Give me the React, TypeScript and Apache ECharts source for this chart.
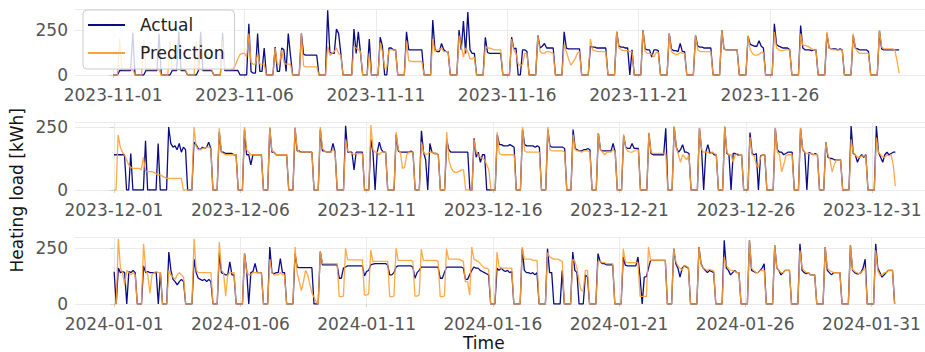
import React, { useEffect, useRef } from "react";
import * as echarts from "echarts";

// sample hours within each day (2-hour steps)
const dayHours = [0, 2, 4, 6, 8, 10, 12, 14, 16, 18, 20, 22];

const novActual: number[][] = [
  [0,0,0,25,25,25,25,25,25,235,0,0],
  [0,0,0,25,25,25,25,25,25,230,0,0],
  [0,0,0,25,25,25,240,25,25,25,0,0],
  [0,0,0,25,240,25,25,25,25,25,0,0],
  [0,0,235,25,25,25,25,25,25,25,0,0],
  [0,0,285,20,10,10,230,20,20,150,0,0],
  [0,0,155,20,20,150,140,20,230,110,0,0],
  [0,0,230,115,110,110,110,110,110,110,0,0],
  [0,0,360,125,120,120,255,230,120,0,0,0],
  [0,0,255,120,240,120,0,0,0,200,0,0],
  [0,0,210,160,0,0,150,150,140,140,0,0],
  [0,0,240,140,140,140,140,140,140,140,0,0],
  [0,0,305,140,130,130,175,140,130,130,0,0],
  [0,0,250,140,300,120,350,140,120,120,0,0],
  [0,0,210,125,120,120,120,120,120,120,0,0],
  [0,0,210,145,150,0,0,140,140,130,0,0],
  [0,0,220,150,160,175,150,150,150,150,0,0],
  [0,0,240,150,145,145,145,145,145,145,0,0],
  [0,0,160,155,155,150,150,150,150,150,0,0],
  [0,0,240,160,155,155,150,150,0,140,0,0],
  [0,0,250,145,140,140,100,140,140,135,0,0],
  [0,0,230,145,135,135,130,175,130,130,0,0],
  [0,0,220,160,155,155,150,150,150,150,0,0],
  [0,0,250,145,140,140,140,140,140,140,0,0],
  [0,0,215,170,165,160,160,190,160,150,0,0],
  [0,0,285,170,160,155,150,150,150,140,0,0],
  [0,0,275,150,140,140,140,135,140,140,0,0],
  [0,0,230,150,145,145,145,140,145,140,0,0],
  [0,0,220,150,145,140,140,140,140,130,0,0],
  [0,0,245,145,140,140,140,140,140,140,140,140],
];
const novPrediction: number[][] = [
  [0,0,0,200,30,30,30,30,30,30,0,0],
  [0,0,195,30,30,30,30,30,30,30,0,0],
  [0,0,190,30,30,30,30,30,30,30,0,0],
  [0,0,190,30,30,30,30,30,30,30,0,0],
  [0,0,190,30,30,30,30,30,60,90,115,120],
  [120,100,230,70,60,60,120,60,60,60,0,0],
  [0,0,150,60,60,140,70,60,60,60,0,0],
  [0,0,230,50,45,45,45,45,45,45,0,0],
  [0,0,160,110,120,130,150,120,110,0,0,0],
  [0,0,160,150,140,130,0,0,0,120,0,0],
  [0,0,180,130,40,40,140,140,140,140,0,0],
  [0,0,190,80,75,75,75,75,75,75,0,0],
  [0,0,200,130,140,140,150,130,130,130,0,0],
  [0,0,220,160,100,150,130,90,90,100,0,0],
  [0,0,160,150,150,145,140,140,140,140,0,0],
  [0,0,200,140,120,60,50,60,120,120,0,0],
  [0,0,220,130,120,120,130,130,125,120,0,0],
  [0,0,170,130,90,55,70,90,120,130,0,0],
  [0,0,200,140,135,130,130,130,130,130,0,0],
  [0,0,240,150,140,135,135,135,130,130,0,0],
  [0,0,250,130,120,120,115,100,125,125,0,0],
  [0,0,230,130,120,115,115,125,120,120,0,0],
  [0,0,220,140,130,130,130,130,130,130,0,0],
  [0,0,250,145,140,140,140,140,140,140,0,0],
  [0,0,220,140,120,110,110,115,125,125,0,0],
  [0,0,240,150,140,135,135,140,140,140,0,0],
  [0,0,230,165,165,160,155,145,140,140,0,0],
  [0,0,240,150,145,140,140,140,140,140,0,0],
  [0,0,230,150,130,120,120,120,120,120,0,0],
  [0,0,250,155,145,145,145,145,145,140,80,10],
];

const decActual: number[][] = [
  [140,140,140,140,140,140,0,0,145,0,0,0],
  [0,0,0,195,0,0,0,0,0,185,0,0],
  [0,0,250,185,170,175,160,185,150,170,160,0],
  [0,0,190,180,165,160,170,165,170,190,165,0],
  [0,0,230,150,150,145,145,145,145,140,140,0],
  [0,0,240,140,140,100,140,140,140,140,140,0],
  [0,0,245,150,150,140,140,140,140,140,140,0],
  [0,0,245,155,155,150,150,150,150,150,150,0],
  [0,0,240,155,155,150,150,150,185,150,0,0],
  [0,0,255,150,150,150,80,150,150,150,150,0],
  [0,0,200,150,0,150,190,160,150,150,0,0],
  [0,0,220,155,150,150,150,150,150,155,150,0],
  [0,0,235,150,120,0,185,150,145,145,140,0],
  [0,0,200,160,150,150,150,150,150,150,150,150],
  [150,0,0,205,130,150,110,140,140,0,0,0],
  [0,0,220,180,180,175,175,175,180,175,170,0],
  [0,0,240,180,175,175,175,175,170,175,170,0],
  [0,0,240,175,170,170,170,170,170,170,165,0],
  [0,0,240,165,160,155,155,160,160,165,160,0],
  [0,0,225,160,155,155,155,155,155,185,150,0],
  [0,0,215,170,165,165,185,165,165,165,0,0],
  [0,0,225,145,140,140,140,140,140,140,245,0],
  [0,0,250,170,150,160,180,150,150,145,0,0],
  [0,0,245,160,0,150,180,145,150,140,140,0],
  [0,0,250,145,140,0,145,145,140,140,140,0],
  [0,0,228,145,140,145,0,135,140,140,0,0],
  [0,0,245,160,150,150,140,145,150,150,150,0],
  [0,0,245,160,150,0,150,145,140,145,140,0],
  [0,0,190,130,125,125,120,120,120,120,0,0],
  [0,0,254,145,140,110,130,140,130,140,0,0],
  [0,0,254,150,130,110,140,150,140,145,150,150],
];
const decPrediction: number[][] = [
  [0,0,218,172,150,140,120,100,90,86,86,86],
  [86,80,130,75,73,73,73,70,65,60,60,55],
  [50,46,46,46,46,46,46,46,46,0,0,0],
  [0,0,250,175,160,160,165,165,170,170,165,0],
  [0,0,245,150,145,140,140,140,140,140,140,0],
  [0,0,250,160,150,140,140,140,140,140,140,0],
  [0,0,250,155,150,140,140,140,140,140,140,0],
  [0,0,250,160,150,150,150,150,150,150,150,0],
  [0,0,250,165,155,150,150,150,160,150,0,0],
  [0,0,200,155,150,145,140,145,145,145,145,0],
  [0,0,258,160,150,150,140,150,150,150,0,0],
  [0,0,230,160,150,86,90,140,150,150,150,0],
  [0,0,190,150,140,145,150,150,145,145,140,0],
  [0,0,230,120,90,75,70,70,75,80,80,0],
  [0,0,0,200,150,140,130,125,120,100,80,0],
  [0,0,230,145,140,140,140,140,140,140,140,0],
  [0,0,250,155,150,150,150,150,150,150,150,0],
  [0,0,250,160,155,155,155,155,155,155,150,0],
  [0,0,220,160,155,155,150,155,155,155,150,0],
  [0,0,225,160,150,140,150,150,150,160,150,0],
  [0,0,221,165,155,150,150,155,160,160,0,0],
  [0,0,228,150,145,145,145,145,145,145,145,0],
  [0,0,254,170,140,110,140,130,120,140,0,0],
  [0,0,247,160,150,150,150,145,150,145,140,0],
  [0,0,254,150,140,140,110,140,145,140,140,0],
  [0,0,210,140,135,100,90,130,140,140,0,0],
  [0,0,247,150,140,72,100,135,140,140,140,0],
  [0,0,247,160,150,145,145,145,140,140,140,0],
  [0,0,190,140,120,72,100,120,120,120,0,0],
  [0,0,200,150,140,130,130,135,135,135,0,0],
  [0,0,208,150,140,130,130,140,135,140,100,15],
];

const janActual: number[][] = [
  [144,0,160,140,145,140,0,145,140,150,140,0],
  [0,0,170,140,145,140,140,140,140,0,140,0],
  [0,0,232,150,110,100,85,100,110,100,0,0],
  [0,0,200,140,115,110,105,110,100,110,100,0],
  [0,0,230,140,135,130,130,188,130,130,0,0],
  [0,0,225,150,0,140,145,181,140,140,140,0],
  [0,0,254,140,135,140,140,203,140,140,0,0],
  [0,0,225,165,162,162,162,162,162,162,162,0],
  [0,0,234,175,175,175,175,175,175,175,175,115],
  [115,160,165,170,170,170,170,170,170,170,170,125],
  [145,150,175,178,180,180,180,180,180,180,175,130],
  [130,140,165,170,170,170,170,170,170,170,165,115],
  [140,150,165,165,165,165,165,165,165,165,165,115],
  [115,140,165,165,165,165,165,165,165,165,160,110],
  [110,130,150,165,160,160,150,145,140,135,130,0],
  [0,0,160,150,160,150,145,150,140,145,0,0],
  [0,0,247,150,140,140,135,140,130,140,0,0],
  [0,0,247,140,140,0,0,0,0,150,0,0],
  [0,0,232,150,140,0,0,0,130,120,0,0],
  [0,0,225,190,180,180,175,175,175,175,0,0],
  [0,0,210,173,170,170,170,170,170,210,120,0],
  [120,122,160,195,195,195,195,195,195,195,195,0],
  [0,0,247,180,160,120,160,170,165,160,0,0],
  [0,0,254,180,160,150,140,150,145,140,0,0],
  [0,0,284,160,150,130,140,150,140,140,0,0],
  [0,0,284,150,145,140,140,150,160,180,0,0],
  [0,0,262,160,150,130,140,150,150,150,0,0],
  [0,0,269,150,140,135,140,130,130,130,0,0],
  [0,0,254,150,140,130,140,140,140,140,0,0],
  [0,0,262,150,140,135,135,140,160,200,0,0],
  [0,0,269,160,140,120,130,140,150,150,150,0],
];
const janPrediction: number[][] = [
  [0,0,291,160,140,85,150,140,130,140,130,0],
  [0,0,269,150,130,48,130,140,145,140,140,0],
  [0,0,150,130,120,110,130,140,130,120,0,0],
  [0,0,291,150,140,140,140,140,140,140,140,0],
  [0,0,276,150,140,35,130,140,140,140,0,0],
  [0,0,225,140,130,130,140,140,140,140,140,0],
  [0,0,200,140,130,130,130,140,130,130,0,0],
  [0,0,254,140,100,60,100,150,130,90,50,30],
  [10,0,234,180,180,180,180,180,180,180,180,33],
  [33,35,249,197,197,197,197,197,197,197,197,40],
  [40,45,241,189,190,190,190,190,190,190,190,33],
  [33,35,249,195,195,195,195,195,195,195,190,35],
  [35,40,245,195,195,195,195,195,195,195,190,33],
  [33,35,247,200,200,200,200,200,200,195,190,100],
  [100,40,254,200,195,190,180,170,160,160,155,0],
  [0,0,232,165,160,160,160,160,160,160,0,0],
  [0,0,254,200,200,200,200,195,195,195,0,0],
  [0,0,230,210,205,200,200,200,195,190,0,0],
  [0,0,200,190,160,100,60,60,150,150,0,0],
  [0,0,190,190,185,185,180,180,180,180,0,0],
  [0,0,247,188,185,185,185,185,185,185,34,34],
  [34,34,254,195,195,195,195,195,195,195,195,0],
  [0,0,247,190,170,160,150,170,170,160,0,0],
  [0,0,254,175,160,155,150,155,150,150,0,0],
  [0,0,210,170,160,150,150,145,140,140,0,0],
  [0,0,284,160,150,140,140,150,150,150,0,0],
  [0,0,262,160,150,140,140,150,150,150,0,0],
  [0,0,240,160,150,140,140,130,130,130,0,0],
  [0,0,254,160,150,145,140,140,140,140,0,0],
  [0,0,262,155,145,140,135,140,150,160,0,0],
  [0,0,240,150,130,130,140,140,150,150,150,0],
];

// x tick positions (days from the first of the month)
const novTicks = [0, 5, 10, 15, 20, 25];
const decTicks = [0, 5, 10, 15, 20, 25, 30];
const janTicks = [0, 5, 10, 15, 20, 25, 30];

const panels = [
  { start: Date.UTC(2023, 10, 1), actual: novActual, pred: novPrediction, ticks: novTicks, xMin: -1.45, xMax: 30.9, top: 9, bottom: 75, yMax: 367 },
  { start: Date.UTC(2023, 11, 1), actual: decActual, pred: decPrediction, ticks: decTicks, xMin: -1.54, xMax: 32.09, top: 122, bottom: 190, yMax: 270 },
  { start: Date.UTC(2024, 0, 1), actual: janActual, pred: janPrediction, ticks: janTicks, xMin: -1.55, xMax: 32.12, top: 237, bottom: 304, yMax: 299 },
];

function toPoints(days: number[][]): [number, number][] {
  const pts: [number, number][] = [];
  days.forEach((vals, d) => {
    vals.forEach((v, i) => pts.push([d + dayHours[i] / 24, v]));
  });
  return pts;
}

const FONT = "DejaVu Sans";
const NAVY = "#0b0b85";
const ORANGE = "#ffa033";

export default function App() {
  const ref = useRef<HTMLDivElement>(null);
  useEffect(() => {
    if (!ref.current) return;
    const chart = echarts.init(ref.current, undefined, { renderer: "svg" });
    const grids: any[] = [];
    const xAxes: any[] = [];
    const yAxes: any[] = [];
    const series: any[] = [];
    panels.forEach((p, i) => {
      grids.push({ left: 75, right: 0, top: p.top, height: p.bottom - p.top, containLabel: false });
      xAxes.push({
        type: "value", gridIndex: i, min: p.xMin, max: p.xMax,
        axisLine: { show: false },
        axisTick: { show: true, customValues: p.ticks, length: 3, lineStyle: { color: "#d0d0d0" } },
        axisLabel: {
          customValues: p.ticks, margin: 11, color: "#555555", fontFamily: FONT, fontSize: 17, lineHeight: 17,
          formatter: (v: number) => new Date(p.start + Math.round(v) * 86400000).toISOString().slice(0, 10),
        },
        splitLine: { show: true, lineStyle: { color: "#ebebeb", width: 1 } },
      });
      yAxes.push({
        type: "value", gridIndex: i, min: 0, max: p.yMax, interval: 250,
        axisLine: { show: false },
        axisTick: { show: true, length: 4, lineStyle: { color: "#d0d0d0" } },
        axisLabel: { margin: 7, color: "#555555", fontFamily: FONT, fontSize: 17, showMaxLabel: false },
        splitLine: { show: true, lineStyle: { color: "#ebebeb", width: 1 } },
      });
      series.push({
        name: "Actual", type: "line", xAxisIndex: i, yAxisIndex: i, data: toPoints(p.actual),
        showSymbol: false, lineStyle: { color: NAVY, width: 1.3 }, itemStyle: { color: NAVY }, z: 2,
      });
      series.push({
        name: "Prediction", type: "line", xAxisIndex: i, yAxisIndex: i, data: toPoints(p.pred),
        showSymbol: false, lineStyle: { color: ORANGE, width: 1.3, opacity: 0.9 }, itemStyle: { color: ORANGE }, z: 3,
      });
    });
    chart.setOption({
      animation: false,
      backgroundColor: "#ffffff",
      grid: grids,
      xAxis: xAxes,
      yAxis: yAxes,
      series,
      legend: {
        data: ["Actual", "Prediction"],
        orient: "vertical", left: 83, top: 10,
        icon: "rect", itemWidth: 37, itemHeight: 2, itemGap: 8,
        padding: [5, 10, 6, 5],
        backgroundColor: "rgba(255,255,255,0.8)", borderColor: "#cccccc", borderWidth: 1, borderRadius: 4,
        textStyle: { fontFamily: FONT, fontSize: 17, color: "#222222", lineHeight: 20, padding: [0, 0, 0, 10] },
        z: 10,
      },
      graphic: [
        { type: "text", left: 8, top: 108, rotation: Math.PI / 2, style: { text: "Heating load [kWh]", font: `17px "${FONT}"`, fill: "#111111" } },
        { type: "text", left: 463, top: 334, style: { text: "Time", font: `17px "${FONT}"`, fill: "#111111", lineHeight: 17 } },
      ],
    });
    return () => chart.dispose();
  }, []);
  return <div ref={ref} style={{ position: "fixed", left: 0, top: 0, width: 925, height: 352 }} />;
}
